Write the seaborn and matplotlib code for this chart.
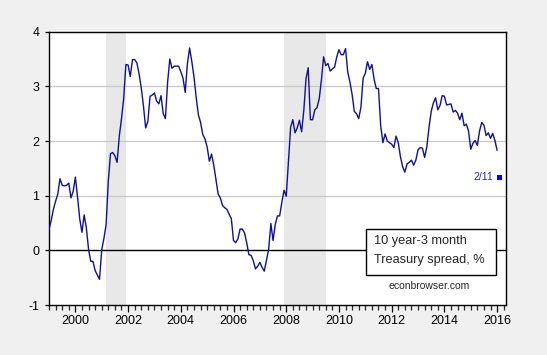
import numpy as np
import pandas as pd
import matplotlib
matplotlib.use("Agg")
import matplotlib.pyplot as plt
import seaborn as sns
from matplotlib.patches import Rectangle
from matplotlib.ticker import FixedLocator, MultipleLocator

# ---- data: monthly 10y - 3m Treasury spread (%), 1999M01 .. 2016M01 ----
spread_1999 = [0.38, 0.55, 0.75, 0.90, 1.03, 1.31, 1.19, 1.18, 1.19, 1.23, 0.96, 1.08]
spread_2000 = [1.34, 0.97, 0.57, 0.33, 0.65, 0.41, 0.02, -0.20, -0.20, -0.37, -0.45, -0.53]
spread_2001 = [0.01, 0.22, 0.47, 1.27, 1.77, 1.79, 1.73, 1.61, 2.09, 2.41, 2.78, 3.40]
spread_2002 = [3.39, 3.18, 3.49, 3.49, 3.43, 3.23, 2.97, 2.64, 2.24, 2.36, 2.82, 2.84]
spread_2003 = [2.88, 2.73, 2.68, 2.83, 2.50, 2.41, 3.08, 3.50, 3.33, 3.37, 3.37, 3.37]
spread_2004 = [3.27, 3.15, 2.89, 3.41, 3.70, 3.46, 3.17, 2.80, 2.48, 2.34, 2.12, 2.04]
spread_2005 = [1.89, 1.63, 1.76, 1.56, 1.30, 1.03, 0.96, 0.82, 0.78, 0.75, 0.66, 0.58]
spread_2006 = [0.18, 0.14, 0.21, 0.39, 0.39, 0.32, 0.14, -0.08, -0.09, -0.19, -0.34, -0.29]
spread_2007 = [-0.22, -0.31, -0.38, -0.18, 0.02, 0.49, 0.18, 0.47, 0.63, 0.63, 0.88, 1.10]
spread_2008 = [0.99, 1.62, 2.25, 2.39, 2.15, 2.24, 2.38, 2.17, 2.56, 3.14, 3.34, 2.39]
spread_2009 = [2.39, 2.57, 2.61, 2.77, 3.11, 3.54, 3.38, 3.42, 3.28, 3.32, 3.35, 3.54]
spread_2010 = [3.67, 3.58, 3.58, 3.69, 3.26, 3.08, 2.85, 2.54, 2.50, 2.41, 2.62, 3.15]
spread_2011 = [3.24, 3.45, 3.31, 3.40, 3.13, 2.96, 2.96, 2.28, 1.97, 2.13, 2.00, 1.97]
spread_2012 = [1.94, 1.88, 2.09, 1.97, 1.71, 1.53, 1.43, 1.58, 1.61, 1.65, 1.56, 1.65]
spread_2013 = [1.84, 1.88, 1.87, 1.70, 1.89, 2.25, 2.54, 2.70, 2.79, 2.57, 2.65, 2.83]
spread_2014 = [2.82, 2.66, 2.67, 2.68, 2.53, 2.56, 2.51, 2.39, 2.51, 2.28, 2.31, 2.18]
spread_2015 = [1.85, 1.96, 2.01, 1.92, 2.18, 2.34, 2.29, 2.10, 2.15, 2.05, 2.14, 2.01]
spread_2016 = [1.83]
start_month = "1999-01"

# latest daily observation
latest_month = "2016-02"
latest_value = 1.34
latest_label = "2/11"

# NBER recessions (peak month, trough month)
recession_start = ["2001-03", "2007-12"]
recession_end = ["2001-11", "2009-06"]

year_tick_labels = [2000, 2002, 2004, 2006, 2008, 2010, 2012, 2014, 2016]
y_tick_values = [-1, 0, 1, 2, 3, 4]
grid_values = [1, 2, 3]
legend_lines = ["10 year-3 month", "Treasury spread, %"]
credit_text = "econbrowser.com"


def month_start(period):
    p = pd.Period(period, freq="M")
    return p.year + (p.month - 1) / 12.0


def month_end(period):
    return month_start(period) + 1 / 12.0


values = (spread_1999 + spread_2000 + spread_2001 + spread_2002 + spread_2003
          + spread_2004 + spread_2005 + spread_2006 + spread_2007 + spread_2008
          + spread_2009 + spread_2010 + spread_2011 + spread_2012 + spread_2013
          + spread_2014 + spread_2015 + spread_2016)
months = pd.period_range(start_month, periods=len(values), freq="M")
df = pd.DataFrame({"t": months.year + (months.month - 1) / 12.0, "spread": values})
latest_df = pd.DataFrame({"t": [month_start(latest_month)], "spread": [latest_value]})

# ---- style ----
sns.set_style("white")
plt.rcParams["font.family"] = ["Liberation Sans", "DejaVu Sans"]

fig = plt.figure(figsize=(5.47, 3.55), dpi=100, facecolor="#f0f0f0")
ax = fig.add_axes([0.0896, 0.1408, 0.8346, 0.7699])
ax.set_facecolor("white")

for s, e in zip(recession_start, recession_end):
    ax.axvspan(month_start(s), month_end(e), color="#e8e8e8", lw=0, zorder=0)

for g in grid_values:
    ax.axhline(g, color="#c8c8c8", lw=0.9, zorder=1)
ax.axhline(0, color="black", lw=1.0, zorder=2)

sns.lineplot(data=df, x="t", y="spread", ax=ax, color="#10109c", lw=1.0,
             zorder=3, legend=False)
sns.scatterplot(data=latest_df, x="t", y="spread", ax=ax, marker="s", s=14,
                color="#0000e6", edgecolor="none", zorder=4, legend=False)
ax.annotate(latest_label, xy=(latest_df["t"][0], latest_df["spread"][0]),
            xytext=(-6, 0), textcoords="offset pixels", ha="right", va="center",
            fontsize=7.6, color="#2a2ad0")

ax.set_xlim(1999.0, 2016.32)
ax.set_ylim(-1, 4)
ax.xaxis.set_major_locator(FixedLocator(year_tick_labels))
ax.set_xticklabels([str(y) for y in year_tick_labels])
ax.xaxis.set_minor_locator(MultipleLocator(0.25))
ax.yaxis.set_major_locator(FixedLocator(y_tick_values))
ax.set_yticklabels([str(v) for v in y_tick_values])
ax.tick_params(axis="x", which="major", direction="out", length=5, width=0.9,
               pad=2.5, labelsize=9, colors="black", bottom=True)
ax.tick_params(axis="x", which="minor", direction="out", length=3.5, width=0.9,
               bottom=True)
ax.tick_params(axis="y", which="major", direction="out", length=3, width=0.9,
               pad=4, labelsize=9, colors="black", left=True)
ax.set_xlabel("")
ax.set_ylabel("")
for sp in ax.spines.values():
    sp.set_visible(True)
    sp.set_color("black")
    sp.set_linewidth(1.0)

# legend box
ax.add_patch(Rectangle((0.6944, 0.1098), 0.2848, 0.1682, transform=ax.transAxes,
                       facecolor="white", edgecolor="black", lw=1.0, zorder=5))
ax.text(0.712, 0.233, legend_lines[0], transform=ax.transAxes, ha="left",
        va="center", fontsize=9.2, zorder=6)
ax.text(0.712, 0.165, legend_lines[1], transform=ax.transAxes, ha="left",
        va="center", fontsize=9.2, zorder=6)
ax.text(0.832, 0.0695, credit_text, transform=ax.transAxes, ha="center",
        va="center", fontsize=7.5, zorder=6)

fig.savefig("out.png", dpi=100, facecolor=fig.get_facecolor())
